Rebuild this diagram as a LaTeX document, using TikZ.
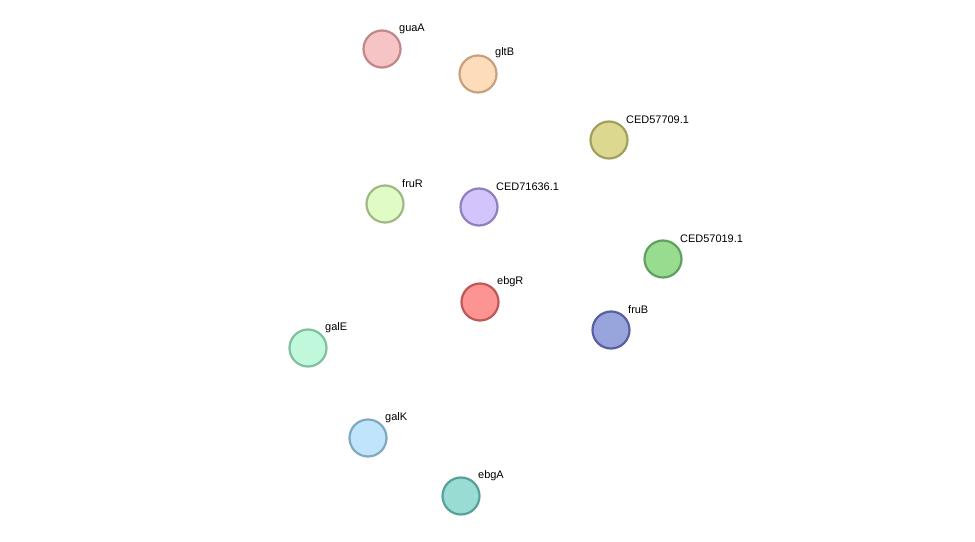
\documentclass[tikz,border=0pt]{standalone}
\usepackage{fontspec}
\setmainfont{Liberation Sans}
\usetikzlibrary{calc,backgrounds}
\definecolor{G}{HTML}{33C233}
\definecolor{K}{HTML}{404040}
\definecolor{M}{HTML}{D030D0}
\definecolor{Y}{HTML}{C4D040}
\definecolor{B}{HTML}{3030F0}
\newcommand\edg[4]{%
  \foreach \c [count=\i] in {#4} {%
    \pgfmathsetmacro\o{(\i-(#3+1)/2)*2.2}%
    \draw[color=\c,line width=1.1pt] ($(#1)!\o pt!90:(#2)$) -- ($(#2)!\o pt!-90:(#1)$);
  }}
\tikzset{
  prot/.style={circle,minimum size=37bp,inner sep=0,line width=2.2bp,
    fill=f#1, draw=d#1},
  lab/.style={anchor=south west,font=\fontsize{11}{11}\selectfont,inner sep=1bp}
}
\newcommand\pc[3]{\definecolor{f#1}{HTML}{#2}\definecolor{d#1}{HTML}{#3}}
\pc{guaA}{F6C4C4}{C08888}
\pc{gltB}{FDDCBC}{C8A07C}
\pc{cfa}{DCD890}{A0A060}
\pc{fruR}{E0FCC4}{A0B888}
\pc{cfb}{D4C4FC}{9080C0}
\pc{cfc}{98DC90}{60A060}
\pc{ebgR}{FC9494}{C05858}
\pc{fruB}{98A4DC}{5860A0}
\pc{galE}{C0F8DC}{80C0A0}
\pc{galK}{C0E4FC}{80A8C0}
\pc{ebgA}{98DCD4}{58A098}
\begin{document}
\begin{tikzpicture}[x=1bp,y=-1bp]
\useasboundingbox (0,0) rectangle (975,542);
\fill[white] (0,0) rectangle (975,542);
\node[prot=guaA] (guaA) at (382,49) {};
\node[prot=gltB] (gltB) at (478,74) {};
\node[prot=cfa] (c577) at (609,140) {};
\node[prot=fruR] (fruR) at (385,204) {};
\node[prot=cfb] (c716) at (479,207) {};
\node[prot=cfc] (c570) at (663,259) {};
\node[prot=ebgR] (ebgR) at (480,302) {};
\node[prot=fruB] (fruB) at (611,330) {};
\node[prot=galE] (galE) at (308,348) {};
\node[prot=galK] (galK) at (368,438) {};
\node[prot=ebgA] (ebgA) at (461,496) {};
\node[lab] at (398,35) {guaA};
\node[lab] at (494,59) {gltB};
\node[lab] at (625,125) {CED57709.1};
\node[lab] at (401,189) {fruR};
\node[lab] at (495,192) {CED71636.1};
\node[lab] at (679,244) {CED57019.1};
\node[lab] at (496,288) {ebgR};
\node[lab] at (627,315) {fruB};
\node[lab] at (324,334) {galE};
\node[lab] at (384,424) {galK};
\node[lab] at (477,482) {ebgA};
\begin{scope}[on background layer]
\edg{guaA}{gltB}{3}{G,K,Y}
\edg{guaA}{c577}{1}{M}
\edg{guaA}{fruR}{1}{M}
\edg{guaA}{c716}{3}{G,K,Y}
\edg{guaA}{ebgR}{1}{M}
\edg{gltB}{c577}{2}{M,Y}
\edg{gltB}{fruR}{2}{M,Y}
\edg{gltB}{c716}{4}{G,K,M,Y}
\edg{c577}{c716}{4}{Y,M,K,G}
\edg{c577}{ebgR}{1}{B}
\edg{c577}{fruB}{4}{G,B,M,Y}
\edg{c577}{c570}{3}{G,M,Y}
\edg{fruR}{c716}{4}{G,K,M,Y}
\edg{fruR}{ebgR}{1}{B}
\edg{fruR}{fruB}{4}{G,B,M,Y}
\edg{fruR}{c570}{2}{Y,G}
\edg{c716}{c570}{4}{G,M,K,Y}
\edg{c716}{ebgR}{4}{G,K,M,Y}
\edg{c716}{fruB}{2}{G,Y}
\edg{c716}{galE}{4}{G,K,M,Y}
\edg{c716}{galK}{4}{G,K,M,Y}
\edg{ebgR}{c570}{4}{G,B,M,Y}
\edg{ebgR}{fruB}{3}{G,M,Y}
\edg{ebgR}{galE}{4}{Y,M,K,G}
\edg{ebgR}{galK}{4}{Y,K,B,G}
\edg{ebgR}{ebgA}{3}{G,B,Y}
\edg{c570}{fruB}{4}{Y,M,K,B}
\edg{galE}{galK}{5}{Y,M,K,B,G}
\edg{galK}{ebgA}{4}{Y,K,B,G}
\end{scope}
\end{tikzpicture}
\end{document}
